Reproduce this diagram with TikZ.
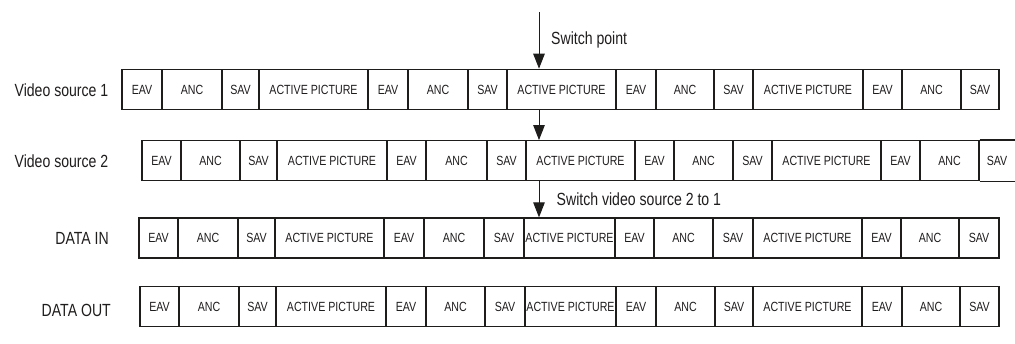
\documentclass[tikz,border=0pt]{standalone}
\usepackage{fontspec}
\setmainfont{Liberation Sans}[FakeStretch=0.8]
\usetikzlibrary{arrows.meta}
\definecolor{ink}{rgb}{0.12,0.11,0.11}
\tikzset{
  cell/.style={draw=ink, line width=1.25pt, rectangle, inner sep=0pt,
    minimum height=40pt, text=ink, text height=9.5pt, text depth=0pt,
    font=\fontsize{13.3}{15}\selectfont},
  celltext/.style={inner sep=0pt, text=ink, text height=9.5pt, text depth=0pt,
    font=\fontsize{13.3}{15}\selectfont},
  frame/.style={draw=ink, line width=1.25pt},
  rowlabel/.style={inner sep=0pt, anchor=base east, text=ink,
    font=\fontsize{17.6}{20}\selectfont},
  note/.style={inner sep=0pt, anchor=base west, text=ink,
    font=\fontsize{17.6}{20}\selectfont},
  arr/.style={draw=ink, line width=1pt, -{Triangle[length=15pt,width=11.5pt]}}
}
\begin{document}
\begin{tikzpicture}[x=1pt,y=-1pt]
\useasboundingbox (0,0) rectangle (1015,343);
\coordinate (edge) at (1015,0);

% row labels
\node[rowlabel] (l1) at (108.5,96.3) {Video source 1};
\node[rowlabel] (l2) at (108.5,167.6) {Video source 2};
\node[rowlabel] (l3) at (109,244.2) {DATA IN};
\node[rowlabel] (l4) at (111,316) {DATA OUT};

% Video source 1
\foreach \a/\b/\t [count=\i] in {122/162/EAV,162/222/ANC,222/259/SAV,259/368/ACTIVE PICTURE,
    368/408/EAV,408/468/ANC,468/507/SAV,507/616/ACTIVE PICTURE,
    616/656/EAV,656/714/ANC,714/753/SAV,753/863/ACTIVE PICTURE,
    863/902/EAV,902/961/ANC,961/999/SAV}
  \node[cell, minimum width={\b-\a}] (v1-\i) at ({(\a+\b)/2},89.3) {\t};

% Video source 2 (its last field is open to the right)
\foreach \a/\b/\t [count=\i] in {142/181/EAV,181/240/ANC,240/277/SAV,277/387/ACTIVE PICTURE,
    387/426/EAV,426/487/ANC,487/526/SAV,526/635/ACTIVE PICTURE,
    635/674/EAV,674/733/ANC,733/772/SAV,772/881/ACTIVE PICTURE,
    881/920/EAV,920/979/ANC}
  \node[cell, minimum width={\b-\a}] (v2-\i) at ({(\a+\b)/2},160.7) {\t};
\node[celltext] (v2-15) at (997,160.7) {SAV};
\draw[frame] (v2-14.north east) -- (v2-14.north east -| edge);
\draw[frame] (v2-14.south east) -- (v2-14.south east -| edge);

% DATA IN
\foreach \a/\b/\t [count=\i] in {139/178/EAV,178/238/ANC,238/275/SAV,275/384/ACTIVE PICTURE,
    384/424/EAV,424/484/ANC,484/524/SAV,524/615/ACTIVE PICTURE,
    615/654/EAV,654/713/ANC,713/753/SAV,753/862/ACTIVE PICTURE,
    862/901/EAV,901/959/ANC,959/999/SAV}
  \node[cell, minimum width={\b-\a}] (din-\i) at ({(\a+\b)/2},238) {\t};

% DATA OUT
\foreach \a/\b/\t [count=\i] in {140/179/EAV,179/239/ANC,239/276/SAV,276/386/ACTIVE PICTURE,
    386/426/EAV,426/485/ANC,485/525/SAV,525/616/ACTIVE PICTURE,
    616/656/EAV,656/715/ANC,715/753/SAV,753/862/ACTIVE PICTURE,
    862/902/EAV,902/960/ANC,960/999/SAV}
  \node[cell, minimum width={\b-\a}] (dout-\i) at ({(\a+\b)/2},306.7) {\t};

% switch arrows
\coordinate (sw) at (539,12);
\draw[arr] (sw) -- (sw |- v1-8.north);
\draw[arr] (sw |- v1-8.south) -- (sw |- v2-8.north);
\draw[arr] (sw |- v2-8.south) -- (sw |- din-8.north);

\node[note] (swp) at (551,44.5) {Switch point};
\node[note] (sw21) at (556.5,205) {Switch video source 2 to 1};
\end{tikzpicture}
\end{document}
